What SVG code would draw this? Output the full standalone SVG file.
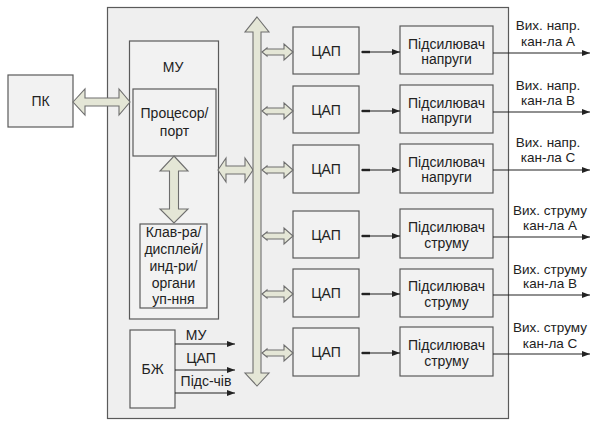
<svg xmlns="http://www.w3.org/2000/svg" width="592" height="421" viewBox="0 0 592 421">
<style>
.bx{fill:#f2f2f2;stroke:#5a5a5a;stroke-width:1.2}
.main{fill:#efefef;stroke:#5a5a5a;stroke-width:1.2}
.ar{fill:#e4e6d6;stroke:#6e6e6e;stroke-width:1.1;stroke-linejoin:miter}
.t{font-family:"Liberation Sans",Arial,sans-serif;font-size:14px;fill:#222;text-anchor:middle}
.o{font-family:"Liberation Sans",Arial,sans-serif;font-size:13.5px;fill:#222;text-anchor:middle}
.ln{stroke:#222;stroke-width:1.2;fill:none}
</style>
<defs>
<marker id="ah" markerWidth="8" markerHeight="6" refX="8" refY="3" orient="auto" markerUnits="userSpaceOnUse">
<path d="M0,0 L8,3 L0,6 Z" fill="#222"/>
</marker>
</defs>
<rect width="592" height="421" fill="#ffffff"/>
<g id="main"><rect class="main" x="107.5" y="7.5" width="401" height="411"/></g>
<g id="pk"><rect class="bx" x="8" y="75" width="65" height="52"/><text class="t" x="40.5" y="106">ПК</text></g>
<g id="mu"><rect class="bx" x="129.5" y="41" width="89" height="278"/><text class="t" x="173" y="72">МУ</text></g>
<g id="cpu"><rect class="bx" x="133" y="89" width="83" height="67"/><text class="t" x="174.5" y="118">Процесор/</text><text class="t" x="174.5" y="136">порт</text></g>
<g id="kbd"><rect class="bx" x="140" y="224" width="67" height="84"/>
<text class="t" x="173.5" y="237">Клав-ра/</text><text class="t" x="173.5" y="254">дисплей/</text><text class="t" x="173.5" y="271">инд-ри/</text><text class="t" x="173.5" y="288">органи</text><text class="t" x="173.5" y="304">уп-ння</text></g>
<g id="bzh"><rect class="bx" x="130" y="330" width="45" height="78"/><text class="t" x="152.5" y="374">БЖ</text></g>
<g id="dac1"><rect class="bx" x="293" y="27" width="66" height="47"/><text class="t" x="326" y="56">ЦАП</text></g>
<g id="dac2"><rect class="bx" x="293" y="86" width="66" height="47"/><text class="t" x="326" y="115">ЦАП</text></g>
<g id="dac3"><rect class="bx" x="293" y="145" width="66" height="48"/><text class="t" x="326" y="174">ЦАП</text></g>
<g id="dac4"><rect class="bx" x="293" y="211" width="66" height="47"/><text class="t" x="326" y="240">ЦАП</text></g>
<g id="dac5"><rect class="bx" x="293" y="269" width="66" height="48"/><text class="t" x="326" y="298">ЦАП</text></g>
<g id="dac6"><rect class="bx" x="293" y="328" width="66" height="48"/><text class="t" x="326" y="357">ЦАП</text></g>
<g id="amp1"><rect class="bx" x="400" y="26" width="93" height="48"/><text class="t" x="446.5" y="49">Підсилювач</text><text class="t" x="446.5" y="64">напруги</text></g>
<g id="amp2"><rect class="bx" x="400" y="85" width="93" height="48"/><text class="t" x="446.5" y="108">Підсилювач</text><text class="t" x="446.5" y="123">напруги</text></g>
<g id="amp3"><rect class="bx" x="400" y="144" width="93" height="49"/><text class="t" x="446.5" y="167">Підсилювач</text><text class="t" x="446.5" y="182">напруги</text></g>
<g id="amp4"><rect class="bx" x="400" y="209" width="93" height="49"/><text class="t" x="446.5" y="232">Підсилювач</text><text class="t" x="446.5" y="248">струму</text></g>
<g id="amp5"><rect class="bx" x="400" y="269" width="93" height="48"/><text class="t" x="446.5" y="291">Підсилювач</text><text class="t" x="446.5" y="307">струму</text></g>
<g id="amp6"><rect class="bx" x="400" y="327" width="93" height="49"/><text class="t" x="446.5" y="350">Підсилювач</text><text class="t" x="446.5" y="366">струму</text></g>
<g id="connectors">
<path class="ar" d="M73,102 L85,89 L85,98 L119,98 L119,89 L130,102 L119,115 L119,106 L85,106 L85,115 Z"/>
<path class="ar" d="M218,170 L226,158 L226,166 L245,166 L245,158 L253,170 L245,182 L245,174 L226,174 L226,182 Z"/>
<path class="ar" d="M174,156 L188,171 L178.5,171 L178.5,209 L188,209 L174,223 L160,209 L169.5,209 L169.5,171 L160,171 Z"/>
<path class="ar" d="M257,17 L269,32 L261,32 L261,373 L269,373 L257,386 L245,373 L253,373 L253,32 L245,32 Z"/>
<g id="busArrows">
<path class="ar" d="M262,52 L267,48 L267,49 L284,49 L284,44 L293,52 L284,60 L284,55 L267,55 L267,56 Z"/>
<path class="ar" d="M262,111 L267,107 L267,108 L284,108 L284,103 L293,111 L284,119 L284,114 L267,114 L267,115 Z"/>
<path class="ar" d="M262,170 L267,166 L267,167 L284,167 L284,162 L293,170 L284,178 L284,173 L267,173 L267,174 Z"/>
<path class="ar" d="M262,236 L267,232 L267,233 L284,233 L284,228 L293,236 L284,244 L284,239 L267,239 L267,240 Z"/>
<path class="ar" d="M262,294 L267,290 L267,291 L284,291 L284,286 L293,294 L284,302 L284,297 L267,297 L267,298 Z"/>
<path class="ar" d="M262,353 L267,349 L267,350 L284,350 L284,345 L293,353 L284,361 L284,356 L267,356 L267,357 Z"/>
</g>
<g id="dacAmp">
<line class="ln" x1="361" y1="52" x2="400" y2="52" marker-end="url(#ah)"/>
<line class="ln" x1="361" y1="111" x2="400" y2="111" marker-end="url(#ah)"/>
<line class="ln" x1="361" y1="170" x2="400" y2="170" marker-end="url(#ah)"/>
<line class="ln" x1="361" y1="236" x2="400" y2="236" marker-end="url(#ah)"/>
<line class="ln" x1="361" y1="294" x2="400" y2="294" marker-end="url(#ah)"/>
<line class="ln" x1="361" y1="353" x2="400" y2="353" marker-end="url(#ah)"/>
<g stroke="#222" stroke-width="2.4">
<line x1="362" y1="52" x2="370" y2="52"/><line x1="362" y1="111" x2="370" y2="111"/><line x1="362" y1="170" x2="370" y2="170"/>
<line x1="362" y1="236" x2="370" y2="236"/><line x1="362" y1="294" x2="370" y2="294"/><line x1="362" y1="353" x2="370" y2="353"/>
</g>
</g>
<g id="outputs">
<line class="ln" x1="493" y1="53" x2="590" y2="53" marker-end="url(#ah)"/>
<line class="ln" x1="493" y1="112" x2="590" y2="112" marker-end="url(#ah)"/>
<line class="ln" x1="493" y1="170" x2="590" y2="170" marker-end="url(#ah)"/>
<line class="ln" x1="493" y1="237" x2="590" y2="237" marker-end="url(#ah)"/>
<line class="ln" x1="493" y1="295" x2="590" y2="295" marker-end="url(#ah)"/>
<line class="ln" x1="493" y1="354" x2="590" y2="354" marker-end="url(#ah)"/>
</g>
<g id="bzhOut">
<line class="ln" x1="175" y1="344" x2="235" y2="344" marker-end="url(#ah)"/>
<line class="ln" x1="175" y1="370" x2="235" y2="370" marker-end="url(#ah)"/>
<line class="ln" x1="175" y1="393" x2="235" y2="393" marker-end="url(#ah)"/>
</g>
</g>
<g id="labels">
<text class="t" x="196" y="340">МУ</text>
<text class="t" x="201" y="363">ЦАП</text>
<text class="t" x="206" y="386">Підс-чів</text>
<text class="o" x="548" y="30">Вих. напр.</text><text class="o" x="548" y="46">кан-ла А</text>
<text class="o" x="548" y="90">Вих. напр.</text><text class="o" x="548" y="105">кан-ла В</text>
<text class="o" x="548" y="147">Вих. напр.</text><text class="o" x="548" y="162">кан-ла С</text>
<text class="o" x="550" y="215">Вих. струму</text><text class="o" x="550" y="230">кан-ла А</text>
<text class="o" x="550" y="274">Вих. струму</text><text class="o" x="550" y="288">кан-ла В</text>
<text class="o" x="550" y="332">Вих. струму</text><text class="o" x="550" y="348">кан-ла С</text>
</g>
</svg>
